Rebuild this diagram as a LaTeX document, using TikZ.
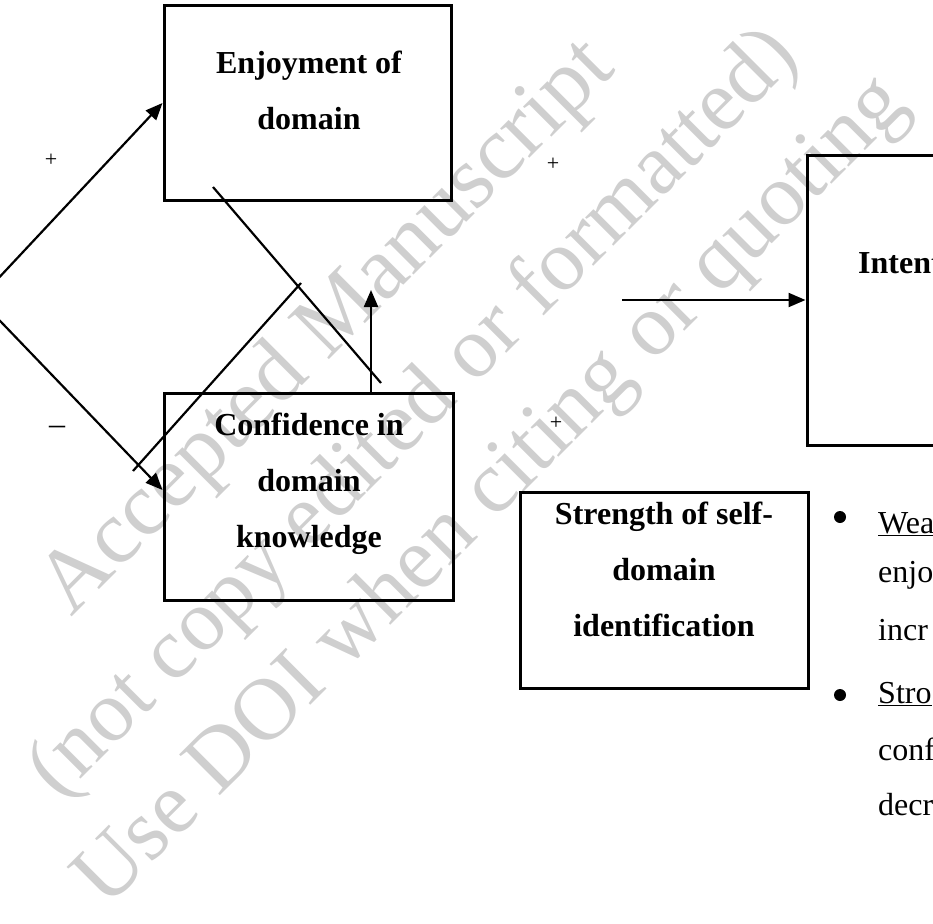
\documentclass[tikz,border=0pt]{standalone}
\usepackage{fontspec}
\setmainfont{Liberation Serif}
\usepackage{tikz}
\usetikzlibrary{arrows.meta, positioning, calc}

\tikzset{
  box/.style={draw, line width=3pt, inner sep=0pt},
  boxtext/.style={font=\fontsize{32}{56}\selectfont\bfseries, align=center, inner sep=0pt},
  link/.style={line width=2.2pt},
  arr/.style={link, -{Triangle[length=17pt,width=14pt]}},
  sign/.style={font=\fontsize{22}{22}\selectfont, inner sep=0pt},
  note/.style={font=\fontsize{32}{32}\selectfont, anchor=base west, inner sep=0pt},
  dot/.style={circle, fill, inner sep=0pt, minimum size=12pt},
  wmark/.style={font=\fontsize{90}{90}\selectfont, text=black!19, rotate=45, inner sep=0pt}
}

\begin{document}
\begin{tikzpicture}[x=1pt, y=-1pt]
\useasboundingbox (0,0) rectangle (933,923);
\clip (0,0) rectangle (933,923);

% watermark
\node[wmark] (wm1) at (329,329) {Accepted Manuscript};
\node[wmark, font=\fontsize{87}{87}\selectfont] (wm2) at (415,415) {(not copy edited or formatted)};
\node[wmark, font=\fontsize{88}{88}\selectfont] (wm3) at (493,493) {Use DOI when citing or quoting};

% boxes
\node[box, minimum width=287pt, minimum height=194pt] (enjoy) at (307.5,103) {};
\node[boxtext] (enjoytext) at (309,90.5) {Enjoyment of\\domain};
\node[box, minimum width=289pt, minimum height=207pt] (conf) at (308.5,496.5) {};
\node[boxtext] (conftext) at (309,484) {Confidence in\\domain\\knowledge};
\node[box, minimum width=288pt, minimum height=196pt] (strength) at (664,590) {};
\node[boxtext] (strengthtext) at (664,569.5) {Strength of self-\\domain\\identification};
\node[box, minimum width=290pt, minimum height=290pt] (intent) at (952,300) {};
\node[boxtext, anchor=base west] (intenttext) at (858,273) {Intent};

% connectors
\coordinate (src) at (-21,299);
\draw[arr] (src) -- (enjoy.west);
\draw[arr] (src) -- ([yshift=6.5pt]conf.west);
\coordinate (fallA) at (213,187);
\coordinate (fallB) at (381,383);
\draw[link] (fallA) -- (fallB);
\coordinate (riseA) at (133,471);
\coordinate (riseB) at (301,283);
\draw[link] (riseA) -- (riseB);
\coordinate (upTip) at (371,290);
\draw[arr] (conf.north -| upTip) -- (upTip);
\coordinate (inStart) at (622,300);
\draw[arr] (inStart) -- (intent.west);

% signs
\node[sign] (plusA) at (51,160) {+};
\node[sign] (plusB) at (553,164) {+};
\node[sign] (plusC) at (556,423) {+};
\node[font=\fontsize{32}{32}\selectfont, inner sep=0pt] (minus) at (57,430) {--};

% bullet notes
\node[dot] (dotA) at (840,517) {};
\node[note] (weak) at (878,533) {\underline{Wea}};
\node[note] (weakB) at (878,582) {enjo};
\node[note] (weakC) at (878,640) {incr};
\node[dot] (dotB) at (840,695) {};
\node[note] (strong) at (878,703) {\underline{Stro}};
\node[note] (strongB) at (878,760) {conf};
\node[note] (strongC) at (878,815) {decr};
\end{tikzpicture}
\end{document}
